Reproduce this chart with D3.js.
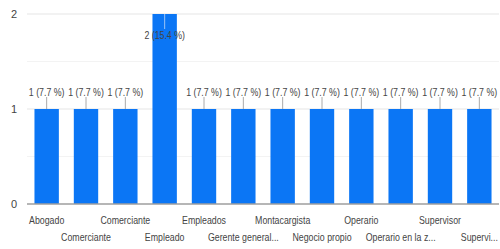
<!DOCTYPE html>
<html>
<head>
<meta charset="utf-8">
<script src="https://cdn.jsdelivr.net/npm/d3@7"></script>
<style>
  body { margin: 0; background: #fff; }
  text { font-family: "Liberation Sans", Arial, sans-serif; fill: #444; }
</style>
</head>
<body>
<div id="chart"></div>
<script>
// data
const categories = ["Abogado", "Comerciante", "Comerciante ", "Empleado", "Empleados",
  "Gerente general...", "Montacargista", "Negocio propio", "Operario",
  "Operario en la z...", "Supervisor", "Supervi..."];
const counts = [1, 1, 1, 2, 1, 1, 1, 1, 1, 1, 1, 1];
const yTicks = [0, 1, 2];

const total = d3.sum(counts);
const data = categories.map((c, i) => ({ name: c, value: counts[i] }));

const W = 500, H = 249;
const margin = { top: 14, right: 0, bottom: 45, left: 27 };
const width = 472, height = H - margin.top - margin.bottom;

const svg = d3.select("#chart").append("svg")
  .attr("width", W).attr("height", H);
const g = svg.append("g")
  .attr("transform", `translate(${margin.left},${margin.top})`);

const x = d3.scaleBand().domain(categories).range([0, width]).paddingInner(0.38).paddingOuter(0.19);
const y = d3.scaleLinear().domain([0, 2]).range([height, 0]);

// gridlines (major + minor)
g.selectAll(".grid").data(d3.range(0.5, 2.01, 0.5)).enter().append("line")
  .attr("x1", 0).attr("x2", width)
  .attr("y1", d => y(d)).attr("y2", d => y(d))
  .attr("stroke", d => d % 1 === 0 ? "#e6e6e6" : "#f3f3f3")
  .attr("stroke-width", 1.2);

// y labels
g.selectAll(".ylab").data(yTicks).enter().append("text")
  .attr("x", -10).attr("y", d => y(d)).attr("dy", "0.35em")
  .attr("text-anchor", "end")
  .style("font-size", "11px")
  .text(d => d);

// bars
g.selectAll(".bar").data(data).enter().append("rect")
  .attr("x", d => x(d.name)).attr("width", x.bandwidth())
  .attr("y", d => y(d.value)).attr("height", d => height - y(d.value))
  .attr("fill", "#0b76f5");

// baseline
g.append("line").attr("x1", 0).attr("x2", width)
  .attr("y1", height).attr("y2", height)
  .attr("stroke", "#9e9e9e").attr("stroke-width", 1.5);

// value labels with leader lines
const fmt = d => d.value + " (" + (d.value / total * 100).toFixed(1) + " %)";
data.forEach(d => {
  const cx = x(d.name) + x.bandwidth() / 2;
  const inside = d.value === 2;
  const ly = inside ? y(d.value) + 21 : y(d.value) - 17;
  g.append("line").attr("x1", cx).attr("x2", cx)
    .attr("y1", inside ? y(d.value) : ly + 5)
    .attr("y2", inside ? ly - 6 : y(d.value))
    .attr("stroke", inside ? "#9cc4f5" : "#aaa").attr("stroke-width", 1);
  g.append("text")
    .attr("transform", `translate(${cx},${ly}) scale(0.8,1)`)
    .attr("dy", "0.35em").attr("text-anchor", "middle")
    .style("font-size", "11px")
    .text(fmt(d));
});

// x labels, staggered on two rows
g.selectAll(".xlab").data(data).enter().append("text")
  .attr("transform", (d, i) => `translate(${x(d.name) + x.bandwidth() / 2},${height + (i % 2 === 0 ? 16 : 33)}) scale(0.8,1)`)
  .attr("dy", "0.35em").attr("text-anchor", "middle")
  .style("font-size", "11px")
  .text(d => d.name.trim());
</script>
</body>
</html>
